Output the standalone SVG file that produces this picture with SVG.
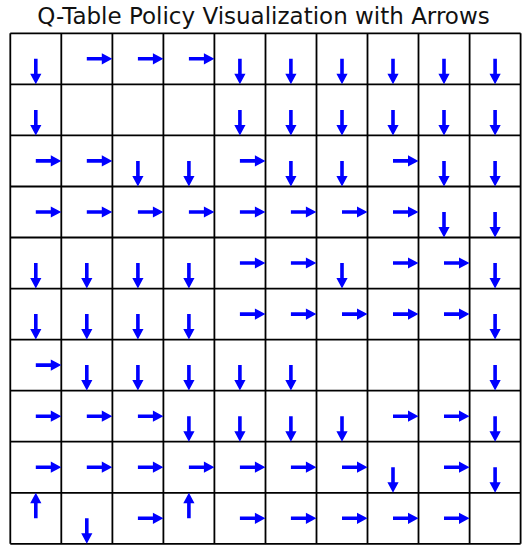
<svg xmlns="http://www.w3.org/2000/svg" xmlns:xlink="http://www.w3.org/1999/xlink" width="526" height="549" viewBox="0 0 526 549">
<style>
.title{font-family:"DejaVu Sans",sans-serif;font-size:23px;fill:#111}
.grid line{stroke:#000;stroke-width:1.8}
.arr{fill:#0000ff}
</style>
<defs>
<path id="aR" class="arr" d="M0,-1.8 L15,-1.8 L15,-5.6 L25.5,0 L15,5.6 L15,1.8 L0,1.8 Z"/>
</defs>
<rect width="526" height="549" fill="#fff"/>
<text class="title" x="263.5" y="23.5" text-anchor="middle">Q-Table Policy Visualization with Arrows</text>
<g id="connectors" class="grid">
<line x1="10.3" y1="33.3" x2="10.3" y2="543.8"/>
<line x1="61.3" y1="33.3" x2="61.3" y2="543.8"/>
<line x1="112.4" y1="33.3" x2="112.4" y2="543.8"/>
<line x1="163.4" y1="33.3" x2="163.4" y2="543.8"/>
<line x1="214.4" y1="33.3" x2="214.4" y2="543.8"/>
<line x1="265.5" y1="33.3" x2="265.5" y2="543.8"/>
<line x1="316.5" y1="33.3" x2="316.5" y2="543.8"/>
<line x1="367.5" y1="33.3" x2="367.5" y2="543.8"/>
<line x1="418.5" y1="33.3" x2="418.5" y2="543.8"/>
<line x1="469.6" y1="33.3" x2="469.6" y2="543.8"/>
<line x1="520.6" y1="33.3" x2="520.6" y2="543.8"/>
<line x1="10.3" y1="33.3" x2="520.6" y2="33.3"/>
<line x1="10.3" y1="84.4" x2="520.6" y2="84.4"/>
<line x1="10.3" y1="135.4" x2="520.6" y2="135.4"/>
<line x1="10.3" y1="186.5" x2="520.6" y2="186.5"/>
<line x1="10.3" y1="237.5" x2="520.6" y2="237.5"/>
<line x1="10.3" y1="288.6" x2="520.6" y2="288.6"/>
<line x1="10.3" y1="339.6" x2="520.6" y2="339.6"/>
<line x1="10.3" y1="390.7" x2="520.6" y2="390.7"/>
<line x1="10.3" y1="441.7" x2="520.6" y2="441.7"/>
<line x1="10.3" y1="492.8" x2="520.6" y2="492.8"/>
<line x1="10.3" y1="543.8" x2="520.6" y2="543.8"/>
</g>
<!-- row 0: D R R R D D D D D D -->
<g id="r0"><use href="#aR" transform="translate(35.8,58.8) rotate(90)"/><use href="#aR" transform="translate(86.8,58.8)"/><use href="#aR" transform="translate(137.9,58.8)"/><use href="#aR" transform="translate(188.9,58.8)"/><use href="#aR" transform="translate(239.9,58.8) rotate(90)"/><use href="#aR" transform="translate(290.9,58.8) rotate(90)"/><use href="#aR" transform="translate(342,58.8) rotate(90)"/><use href="#aR" transform="translate(393,58.8) rotate(90)"/><use href="#aR" transform="translate(444,58.8) rotate(90)"/><use href="#aR" transform="translate(495.1,58.8) rotate(90)"/></g>
<!-- row 1: D - - - D D D D D D -->
<g id="r1"><use href="#aR" transform="translate(35.8,109.9) rotate(90)"/><use href="#aR" transform="translate(239.9,109.9) rotate(90)"/><use href="#aR" transform="translate(290.9,109.9) rotate(90)"/><use href="#aR" transform="translate(342,109.9) rotate(90)"/><use href="#aR" transform="translate(393,109.9) rotate(90)"/><use href="#aR" transform="translate(444,109.9) rotate(90)"/><use href="#aR" transform="translate(495.1,109.9) rotate(90)"/></g>
<!-- row 2: R R D D R D D R D D -->
<g id="r2"><use href="#aR" transform="translate(35.8,160.9)"/><use href="#aR" transform="translate(86.8,160.9)"/><use href="#aR" transform="translate(137.9,160.9) rotate(90)"/><use href="#aR" transform="translate(188.9,160.9) rotate(90)"/><use href="#aR" transform="translate(239.9,160.9)"/><use href="#aR" transform="translate(290.9,160.9) rotate(90)"/><use href="#aR" transform="translate(342,160.9) rotate(90)"/><use href="#aR" transform="translate(393,160.9)"/><use href="#aR" transform="translate(444,160.9) rotate(90)"/><use href="#aR" transform="translate(495.1,160.9) rotate(90)"/></g>
<!-- row 3: R R R R R R R R D D -->
<g id="r3"><use href="#aR" transform="translate(35.8,212)"/><use href="#aR" transform="translate(86.8,212)"/><use href="#aR" transform="translate(137.9,212)"/><use href="#aR" transform="translate(188.9,212)"/><use href="#aR" transform="translate(239.9,212)"/><use href="#aR" transform="translate(290.9,212)"/><use href="#aR" transform="translate(342,212)"/><use href="#aR" transform="translate(393,212)"/><use href="#aR" transform="translate(444,212) rotate(90)"/><use href="#aR" transform="translate(495.1,212) rotate(90)"/></g>
<!-- row 4: D D D D R R D R R D -->
<g id="r4"><use href="#aR" transform="translate(35.8,263) rotate(90)"/><use href="#aR" transform="translate(86.8,263) rotate(90)"/><use href="#aR" transform="translate(137.9,263) rotate(90)"/><use href="#aR" transform="translate(188.9,263) rotate(90)"/><use href="#aR" transform="translate(239.9,263)"/><use href="#aR" transform="translate(290.9,263)"/><use href="#aR" transform="translate(342,263) rotate(90)"/><use href="#aR" transform="translate(393,263)"/><use href="#aR" transform="translate(444,263)"/><use href="#aR" transform="translate(495.1,263) rotate(90)"/></g>
<!-- row 5: D D D D R R R R R D -->
<g id="r5"><use href="#aR" transform="translate(35.8,314.1) rotate(90)"/><use href="#aR" transform="translate(86.8,314.1) rotate(90)"/><use href="#aR" transform="translate(137.9,314.1) rotate(90)"/><use href="#aR" transform="translate(188.9,314.1) rotate(90)"/><use href="#aR" transform="translate(239.9,314.1)"/><use href="#aR" transform="translate(290.9,314.1)"/><use href="#aR" transform="translate(342,314.1)"/><use href="#aR" transform="translate(393,314.1)"/><use href="#aR" transform="translate(444,314.1)"/><use href="#aR" transform="translate(495.1,314.1) rotate(90)"/></g>
<!-- row 6: R D D D D D - - - D -->
<g id="r6"><use href="#aR" transform="translate(35.8,365.1)"/><use href="#aR" transform="translate(86.8,365.1) rotate(90)"/><use href="#aR" transform="translate(137.9,365.1) rotate(90)"/><use href="#aR" transform="translate(188.9,365.1) rotate(90)"/><use href="#aR" transform="translate(239.9,365.1) rotate(90)"/><use href="#aR" transform="translate(290.9,365.1) rotate(90)"/><use href="#aR" transform="translate(495.1,365.1) rotate(90)"/></g>
<!-- row 7: R R R D D D D R R D -->
<g id="r7"><use href="#aR" transform="translate(35.8,416.2)"/><use href="#aR" transform="translate(86.8,416.2)"/><use href="#aR" transform="translate(137.9,416.2)"/><use href="#aR" transform="translate(188.9,416.2) rotate(90)"/><use href="#aR" transform="translate(239.9,416.2) rotate(90)"/><use href="#aR" transform="translate(290.9,416.2) rotate(90)"/><use href="#aR" transform="translate(342,416.2) rotate(90)"/><use href="#aR" transform="translate(393,416.2)"/><use href="#aR" transform="translate(444,416.2)"/><use href="#aR" transform="translate(495.1,416.2) rotate(90)"/></g>
<!-- row 8: R R R R R R R D R D -->
<g id="r8"><use href="#aR" transform="translate(35.8,467.2)"/><use href="#aR" transform="translate(86.8,467.2)"/><use href="#aR" transform="translate(137.9,467.2)"/><use href="#aR" transform="translate(188.9,467.2)"/><use href="#aR" transform="translate(239.9,467.2)"/><use href="#aR" transform="translate(290.9,467.2)"/><use href="#aR" transform="translate(342,467.2)"/><use href="#aR" transform="translate(393,467.2) rotate(90)"/><use href="#aR" transform="translate(444,467.2)"/><use href="#aR" transform="translate(495.1,467.2) rotate(90)"/></g>
<!-- row 9: U D R U R R R R R - -->
<g id="r9"><use href="#aR" transform="translate(35.8,518.3) rotate(-90)"/><use href="#aR" transform="translate(86.8,518.3) rotate(90)"/><use href="#aR" transform="translate(137.9,518.3)"/><use href="#aR" transform="translate(188.9,518.3) rotate(-90)"/><use href="#aR" transform="translate(239.9,518.3)"/><use href="#aR" transform="translate(290.9,518.3)"/><use href="#aR" transform="translate(342,518.3)"/><use href="#aR" transform="translate(393,518.3)"/><use href="#aR" transform="translate(444,518.3)"/></g>
</svg>
